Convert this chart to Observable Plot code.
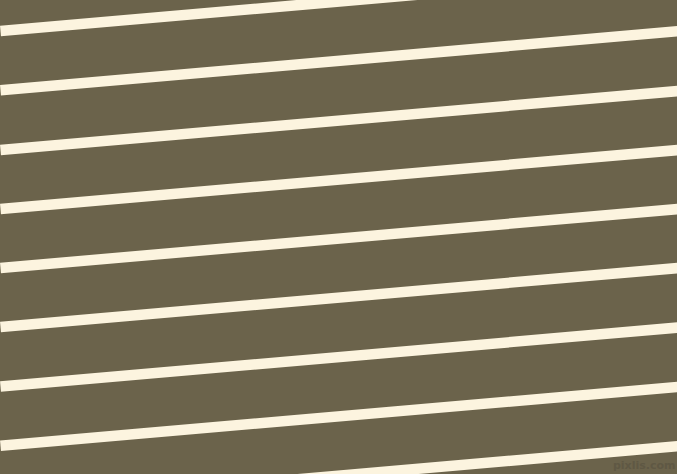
<!DOCTYPE html>
<html>
<head>
<meta charset="utf-8">
<script src="https://cdn.jsdelivr.net/npm/d3@7"></script>
<script src="https://cdn.jsdelivr.net/npm/@observablehq/plot@0.6"></script>
<style>
  html, body { margin: 0; padding: 0; background: #6b634b; overflow: hidden; }
</style>
</head>
<body>
<div id="chart"></div>
<script>
// Stripe positions (pixel units of the 677x474 field)
const stripeIds = [0, 1, 2, 3, 4, 5, 6, 7, 8];
const leftY  = [30.5, 89.7, 149.5, 208.5, 267.5, 326.5, 386.0, 445.3, 504.6];
const rightY = [-28.4, 30.8, 90.6, 149.6, 208.6, 267.6, 327.1, 386.4, 445.7];
const xLeft = 0;
const xRight = 677;
const watermark = ["pixlis.com"];

const stripes = stripeIds.map((id, i) => ({id, x1: xLeft, x2: xRight, y1: leftY[i], y2: rightY[i]}));

const chart = Plot.plot({
  width: 677,
  height: 474,
  margin: 0,
  x: {domain: [0, 677], axis: null},
  y: {domain: [474, 0], axis: null},
  style: {background: "#6b634b", display: "block"},
  marks: [
    Plot.link(stripes, {x1: "x1", x2: "x2", y1: "y1", y2: "y2", stroke: "#fcf4df", strokeWidth: 10.5, strokeLinecap: "butt"}),
    Plot.text(watermark, {x: 675, y: 465, text: d => d, textAnchor: "end", fill: "#5f5844", fontSize: 11, fontFamily: "DejaVu Sans", fontWeight: "bold"})
  ]
});
document.getElementById("chart").appendChild(chart);
</script>
</body>
</html>
